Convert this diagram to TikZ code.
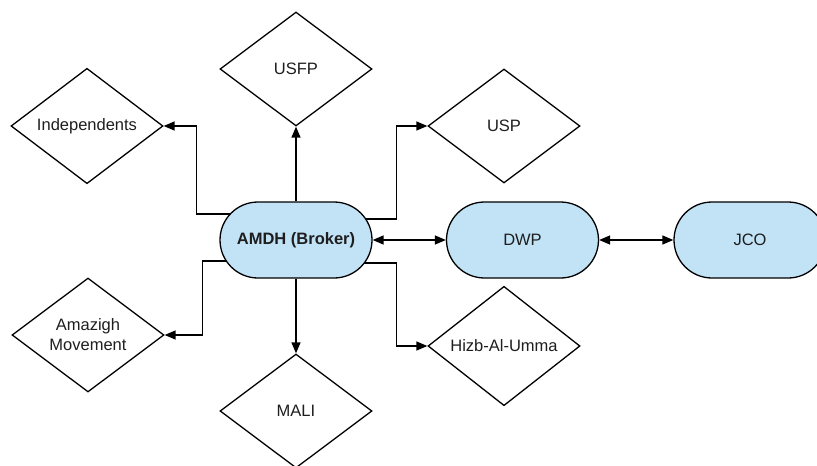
\documentclass[tikz,border=0pt]{standalone}
\usepackage{fontspec}
\setmainfont{Liberation Sans}
\usetikzlibrary{shapes.geometric,shapes.misc,arrows.meta,backgrounds}
\definecolor{boxfill}{RGB}{194,227,246}
\definecolor{txt}{RGB}{30,30,30}
\tikzset{
  x=1pt,y=1pt,
  dia/.style={diamond,draw=black,line width=1.3pt,fill=white,minimum width=152pt,minimum height=114pt,inner sep=0pt,align=center,text=txt,font=\fontsize{16.5}{20}\selectfont},
  pill/.style={rounded rectangle,draw=black,line width=1.3pt,fill=boxfill,minimum width=152pt,minimum height=76pt,inner sep=0pt,text=txt,font=\fontsize{16.5}{20}\selectfont},
  arr/.style={draw=black,line width=1.4pt,-{Triangle[length=11pt,width=9pt]}},
  darr/.style={draw=black,line width=1.4pt,{Triangle[length=11pt,width=9pt]}-{Triangle[length=11pt,width=9pt]}}
}
\begin{document}
\begin{tikzpicture}
\clip (0,0) rectangle (817,-466);
\node[pill,font=\fontsize{16.5}{20}\selectfont\bfseries] (amdh) at (296,-240) {AMDH (Broker)};
\node[pill] (dwp) at (522.5,-240) {DWP};
\node[pill] (jco) at (750,-240) {JCO};
\node[dia] (indep) at (87,-126) {Independents};
\node[dia] (usfp) at (296,-69) {USFP};
\node[dia] (usp) at (504,-126) {USP};
\node[dia] (amaz) at (88,-335) {Amazigh\\Movement};
\node[dia] (mali) at (296,-411) {MALI};
\node[dia] (hizb) at (504,-346) {Hizb-Al-Umma};
\begin{scope}[on background layer]
\draw[arr] ([yshift=26pt]amdh.center) -| ([xshift=33pt]indep.east) -- (indep.east);
\draw[arr] (amdh.north) -- (usfp.south);
\draw[arr] ([yshift=21pt]amdh.center) -| ([xshift=-31pt]usp.west) -- (usp.west);
\draw[arr] ([yshift=-21pt]amdh.center) -| ([xshift=38pt]amaz.east) -- (amaz.east);
\draw[arr] (amdh.south) -- (mali.north);
\draw[arr] ([yshift=-23pt]amdh.center) -| ([xshift=-31pt]hizb.west) -- (hizb.west);
\end{scope}
\draw[darr] (amdh.east) -- (dwp.west);
\draw[darr] (dwp.east) -- (jco.west);
\end{tikzpicture}
\end{document}
